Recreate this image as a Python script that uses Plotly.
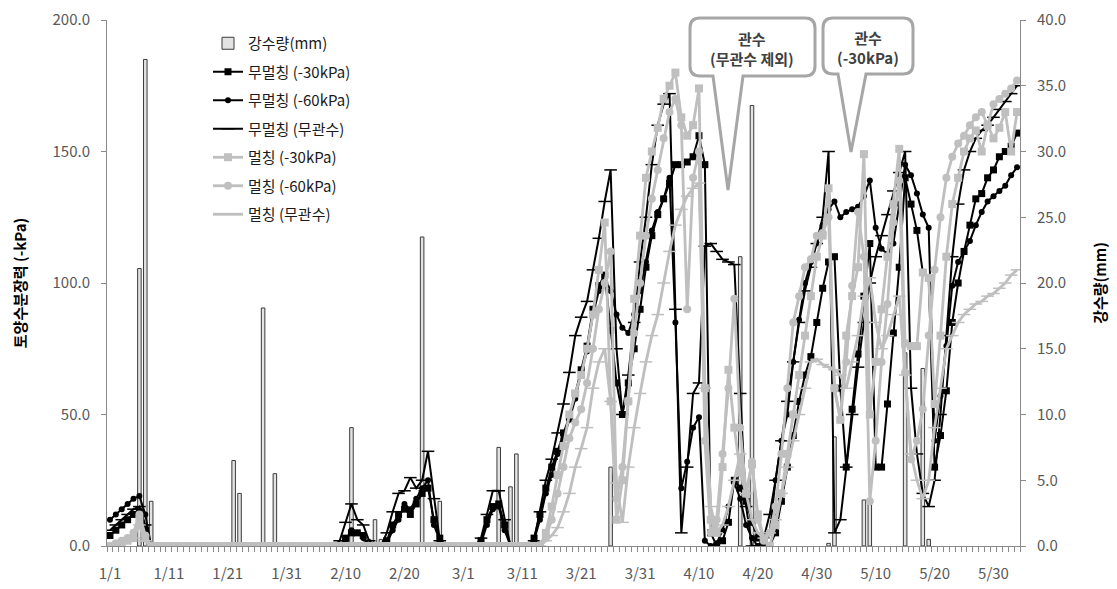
import plotly.graph_objects as go

# ---------------- data ----------------
tick_pos = [0, 10, 20, 30, 40, 50, 60, 70, 80, 90, 100, 110, 120, 130, 140, 150]
tick_labels = ["1/1", "1/11", "1/21", "1/31", "2/10", "2/20", "3/1", "3/11",
               "3/21", "3/31", "4/10", "4/20", "4/30", "5/10", "5/20", "5/30"]
n_days = 155
days = list(range(n_days))

rain_days = [5, 6, 7, 21, 22, 26, 28, 41, 44, 45, 46, 53, 56, 66, 68, 69,
             85, 107, 109, 122, 123, 128, 129, 135, 138, 139]
rain_mm = [21.1, 37.0, 3.4, 6.5, 4.0, 18.1, 5.5, 9.0, 0.5, 2.0, 0.5, 23.5, 3.4, 7.5, 4.5, 7.0,
           6.0, 22.0, 33.5, 0.2, 8.3, 3.5, 3.5, 14.7, 13.5, 0.5]

nomulch_30 = [
    4, 6, 8, 10, 12, 13, 6, 0, 0, 0,
    0, 0, 0, 0, 0, 0, 0, 0, 0, 0,
    0, 0, 0, 0, 0, 0, 0, 0, 0, 0,
    0, 0, 0, 0, 0, 0, 0, 0, 0, 0,
    3, 5, 5, 4, 0, 0, 0, 2, 8, 12,
    14, 12, 16, 20, 22, 10, 3, 0, 0, 0,
    0, 0, 0, 2, 10, 15, 16, 8, 0, 0,
    0, 0, 3, 12, 22, 30, 36, 43, 49, 58,
    67, 76, 90, 99, 103, 82, 62, 50, 62, 75,
    90, 106, 118, 126, 132, 138, 145, 145, 146, 148,
    156, 145, 5, 0, 2, 9, 25, 22, 17, 9,
    3, 0, 0, 5, 17, 30, 42, 55, 65, 72,
    85, 98, 108, 110, 60, 30, 52, 73, 95, 115,
    30, 30, 54, 81, 106, 140, 130, 120, 104, 102,
    30, 42, 59, 85, 100, 112, 122, 132, 134, 140,
    143, 148, 150, 152, 157]

nomulch_60 = [
    10, 12, 14, 16, 18, 19, 12, 0, 0, 0,
    0, 0, 0, 0, 0, 0, 0, 0, 0, 0,
    0, 0, 0, 0, 0, 0, 0, 0, 0, 0,
    0, 0, 0, 0, 0, 0, 0, 0, 0, 0,
    2, 6, 5, 3, 0, 0, 0, 1, 6, 10,
    16, 14, 18, 22, 25, 8, 2, 0, 0, 0,
    0, 0, 0, 1, 8, 14, 15, 6, 0, 0,
    0, 0, 2, 10, 20, 27, 35, 41, 48, 56,
    66, 74, 88, 97, 102, 97, 88, 83, 81, 88,
    97, 108, 120, 127, 132, 140, 85, 22, 32, 45,
    49, 2, 0, 1, 6, 15, 24, 18, 8, 3,
    0, 0, 5, 25, 40, 50, 70, 86, 100, 108,
    115, 122, 128, 131, 125, 127, 128, 129, 133, 139,
    121, 113, 111, 115, 130, 145, 141, 134, 126, 121,
    40, 57, 76, 99, 108, 112, 116, 122, 127, 131,
    133, 135, 137, 141, 144]

nomulch_none = [
    6, 8, 10, 12, 14, 15, 8, 0, 0, 0,
    0, 0, 0, 0, 0, 0, 0, 0, 0, 0,
    0, 0, 0, 0, 0, 0, 0, 0, 0, 0,
    0, 0, 0, 0, 0, 0, 0, 0, 0, 2,
    9, 16, 10, 8, 2, 0, 0, 5, 13, 20,
    21, 26, 22, 25, 36, 18, 2, 0, 0, 0,
    0, 0, 0, 3, 12, 21, 21, 10, 0, 0,
    0, 0, 2, 13, 25, 33, 43, 54, 66, 80,
    87, 93, 105, 117, 131, 143, 75, 50, 65, 85,
    108, 125, 145, 160, 168, 172, 90, 5, 30, 58,
    62, 114, 115, 112, 109, 108, 107, 58, 15, 0,
    0, 3, 12, 25, 40, 55, 70, 85, 97, 106,
    115, 125, 150, 5, 10, 30, 50, 68, 85, 100,
    110, 118, 126, 135, 142, 150, 60, 35, 20, 15,
    25, 50, 80, 110, 130, 143, 150, 155, 158, 160,
    163, 166, 169, 172, 175]

mulch_30 = [
    0, 0, 1, 2, 3, 10, 3, 0, 0, 0,
    0, 0, 0, 0, 0, 0, 0, 0, 0, 0,
    0, 0, 0, 0, 0, 0, 0, 0, 0, 0,
    0, 0, 0, 0, 0, 0, 0, 0, 0, 0,
    0, 0, 0, 0, 0, 0, 0, 0, 0, 0,
    0, 0, 0, 0, 0, 0, 0, 0, 0, 0,
    0, 0, 0, 0, 0, 0, 0, 0, 0, 0,
    0, 0, 0, 0, 5, 15, 27, 38, 50, 58,
    65, 75, 88, 105, 123, 55, 10, 25, 55, 94,
    118, 140, 150, 159, 170, 175, 180, 163, 156, 160,
    174, 60, 10, 5, 30, 67, 45, 28, 20, 31,
    12, 3, 0, 8, 20, 35, 50, 65, 80, 95,
    110, 118, 136, 60, 48, 80, 95, 106, 149, 50,
    70, 90, 110, 130, 151, 77, 76, 76, 104, 102,
    54, 80, 110, 130, 140, 150, 155, 158, 150, 160,
    155, 159, 165, 150, 165]

mulch_60 = [
    0, 1, 2, 3, 5, 12, 4, 0, 0, 0,
    0, 0, 0, 0, 0, 0, 0, 0, 0, 0,
    0, 0, 0, 0, 0, 0, 0, 0, 0, 0,
    0, 0, 0, 0, 0, 0, 0, 0, 0, 0,
    0, 0, 0, 0, 0, 0, 0, 0, 0, 0,
    0, 0, 0, 0, 0, 0, 0, 0, 0, 0,
    0, 0, 0, 0, 0, 0, 0, 0, 0, 0,
    0, 0, 0, 0, 3, 10, 20, 30, 41, 47,
    52, 62, 75, 90, 100, 112, 18, 30, 55, 81,
    100, 118, 132, 143, 155, 165, 170, 160, 90, 140,
    150, 40, 5, 10, 35, 60, 94, 45, 20, 32,
    10, 2, 5, 15, 35, 60, 85, 95, 106, 109,
    118, 119, 125, 60, 48, 70, 99, 127, 110, 17,
    40, 70, 92, 123, 139, 66, 33, 40, 52, 80,
    105, 125, 140, 148, 153, 156, 160, 163, 165, 160,
    168, 170, 172, 174, 177]

mulch_none = [
    0, 0, 1, 2, 3, 8, 2, 0, 0, 0,
    0, 0, 0, 0, 0, 0, 0, 0, 0, 0,
    0, 0, 0, 0, 0, 0, 0, 0, 0, 0,
    0, 0, 0, 0, 0, 0, 0, 0, 0, 0,
    0, 0, 0, 0, 0, 0, 0, 0, 0, 0,
    0, 0, 0, 0, 0, 0, 0, 0, 0, 0,
    0, 0, 0, 0, 0, 0, 0, 0, 0, 0,
    0, 0, 0, 0, 2, 4, 7, 13, 20, 30,
    37, 45, 60, 70, 75, 55, 24, 9, 30, 45,
    58, 70, 80, 88, 100, 112, 122, 128, 133, 136,
    138, 60, 15, 5, 8, 15, 25, 35, 20, 10,
    5, 3, 5, 10, 20, 30, 40, 50, 60, 70,
    71, 69, 68, 67, 65, 60, 70, 80, 95, 102,
    85, 75, 80, 88, 95, 65, 35, 25, 18, 25,
    45, 60, 75, 80, 85, 88, 90, 92, 93, 95,
    96, 98, 100, 103, 105]

# ---------------- figure ----------------
FONT = "Noto Sans CJK KR, Noto Sans, sans-serif"
BLACK = "#000000"
GRAY = "#BFBFBF"
AXIS = "#898989"

fig = go.Figure()

fig.add_trace(go.Bar(
    x=rain_days, y=rain_mm, name="강수량(mm)", yaxis="y", width=0.6,
    marker=dict(color="#E3E3E3", line=dict(color="#3A3A3A", width=1)),
    legendgroup="g0"))

line_specs = [
    ("무멀칭 (-30kPa)", nomulch_30, BLACK, "square", 7, 2),
    ("무멀칭 (-60kPa)", nomulch_60, BLACK, "circle", 6, 2),
    ("무멀칭 (무관수)", nomulch_none, BLACK, "line-ew-open", 9, 2),
    ("멀칭 (-30kPa)", mulch_30, GRAY, "square", 8, 2.8),
    ("멀칭 (-60kPa)", mulch_60, GRAY, "circle", 8, 2.8),
    ("멀칭 (무관수)", mulch_none, GRAY, "line-ew-open", 9, 2.8),
]
for i, (name, vals, col, sym, size, lw) in enumerate(line_specs):
    marker = dict(symbol=sym, size=size, color=col)
    if sym.startswith("line"):
        marker["line"] = dict(color=col, width=1.5)
    fig.add_trace(go.Scatter(
        x=days, y=vals, name=name, yaxis="y2", mode="lines+markers",
        line=dict(color=col, width=lw), marker=marker,
        legendgroup="g%d" % (i + 1)))

# callout shapes (speech bubbles), pixel -> paper conversion
PL, PR, PT, PB = 107, 1020, 20, 546


def px(x):
    return (x - PL) / (PR - PL)


def py(y):
    return (PB - y) / (PB - PT)


def bubble(l, r, t, b, pl, pr, tipx, tipy, rad=10):
    pts = [
        ("M", (l + rad, t)), ("L", (r - rad, t)), ("Q", (r, t), (r, t + rad)),
        ("L", (r, b - rad)), ("Q", (r, b), (r - rad, b)), ("L", (pr, b)),
        ("L", (tipx, tipy)), ("L", (pl, b)), ("L", (l + rad, b)),
        ("Q", (l, b), (l, b - rad)), ("L", (l, t + rad)), ("Q", (l, t), (l + rad, t)),
    ]
    s = ""
    for item in pts:
        cmd = item[0]
        coords = " ".join("%.5f,%.5f" % (px(a), py(c)) for a, c in item[1:])
        s += cmd + " " + coords + " "
    return s + "Z"


shapes = [
    dict(type="path", xref="paper", yref="paper",
         path=bubble(690, 815, 18, 76, 713, 743, 728, 190),
         line=dict(color="#A6A6A6", width=3), fillcolor="white", layer="above"),
    dict(type="path", xref="paper", yref="paper",
         path=bubble(823, 913, 18, 74, 838, 866, 851, 152),
         line=dict(color="#A6A6A6", width=3), fillcolor="white", layer="above"),
]

annotations = [
    dict(xref="paper", yref="paper", x=px(752), y=py(48), xanchor="center", yanchor="middle",
         showarrow=False,
         text="<b>관수<br>(무관수 제외)</b>", font=dict(family=FONT, size=15, color="#404040"),
         align="center"),
    dict(xref="paper", yref="paper", x=px(868), y=py(47), xanchor="center", yanchor="middle",
         showarrow=False,
         text="<b>관수<br>(-30kPa)</b>", font=dict(family=FONT, size=15, color="#404040"),
         align="center"),
]

fig.update_layout(
    width=1117, height=589,
    margin=dict(l=PL, r=1117 - PR, t=PT, b=589 - PB, autoexpand=False),
    paper_bgcolor="white", plot_bgcolor="white",
    font=dict(family=FONT, size=15, color="#595959"),
    barmode="overlay",
    showlegend=True,
    legend=dict(x=px(208), y=py(27), xanchor="left", yanchor="top",
                bgcolor="rgba(0,0,0,0)", font=dict(family=FONT, size=15, color="#1A1A1A"),
                tracegroupgap=6, itemwidth=30),
    xaxis=dict(range=[-0.5, n_days - 0.5], tickmode="array", tickvals=tick_pos,
               ticktext=tick_labels, ticks="", showline=True, linecolor=AXIS,
               linewidth=1, showgrid=False, zeroline=False, ticklabelstandoff=14,
               automargin=False,
               tickfont=dict(family=FONT, size=15, color="#595959"),
               minor=dict(tick0=-0.5, dtick=1, ticks="outside", ticklen=5,
                          tickcolor=AXIS, showgrid=False)),
    yaxis=dict(range=[0, 40], side="right", dtick=5, tickformat=".1f",
               showline=True, linecolor=AXIS, ticks="outside", ticklen=5,
               tickcolor=AXIS, showgrid=False, zeroline=False, ticklabelstandoff=8,
               automargin=False,
               tickfont=dict(family=FONT, size=15, color="#595959"),
               title=dict(text="<b>강수량(mm)</b>", font=dict(family=FONT, size=15, color="#000000"),
                          standoff=30)),
    yaxis2=dict(range=[0, 200], side="left", overlaying="y", dtick=50, tickformat=".1f",
                showline=True, linecolor=AXIS, ticks="outside", ticklen=5,
                tickcolor=AXIS, showgrid=False, zeroline=False, ticklabelstandoff=8,
                automargin=False,
                tickfont=dict(family=FONT, size=15, color="#595959"),
                title=dict(text="<b>토양수분장력 (-kPa)</b>",
                           font=dict(family=FONT, size=15, color="#000000"), standoff=22)),
    shapes=shapes,
    annotations=annotations,
)

fig.write_html("out.html", config={"displayModeBar": False},
               post_script="document.body.style.margin='0px';")
